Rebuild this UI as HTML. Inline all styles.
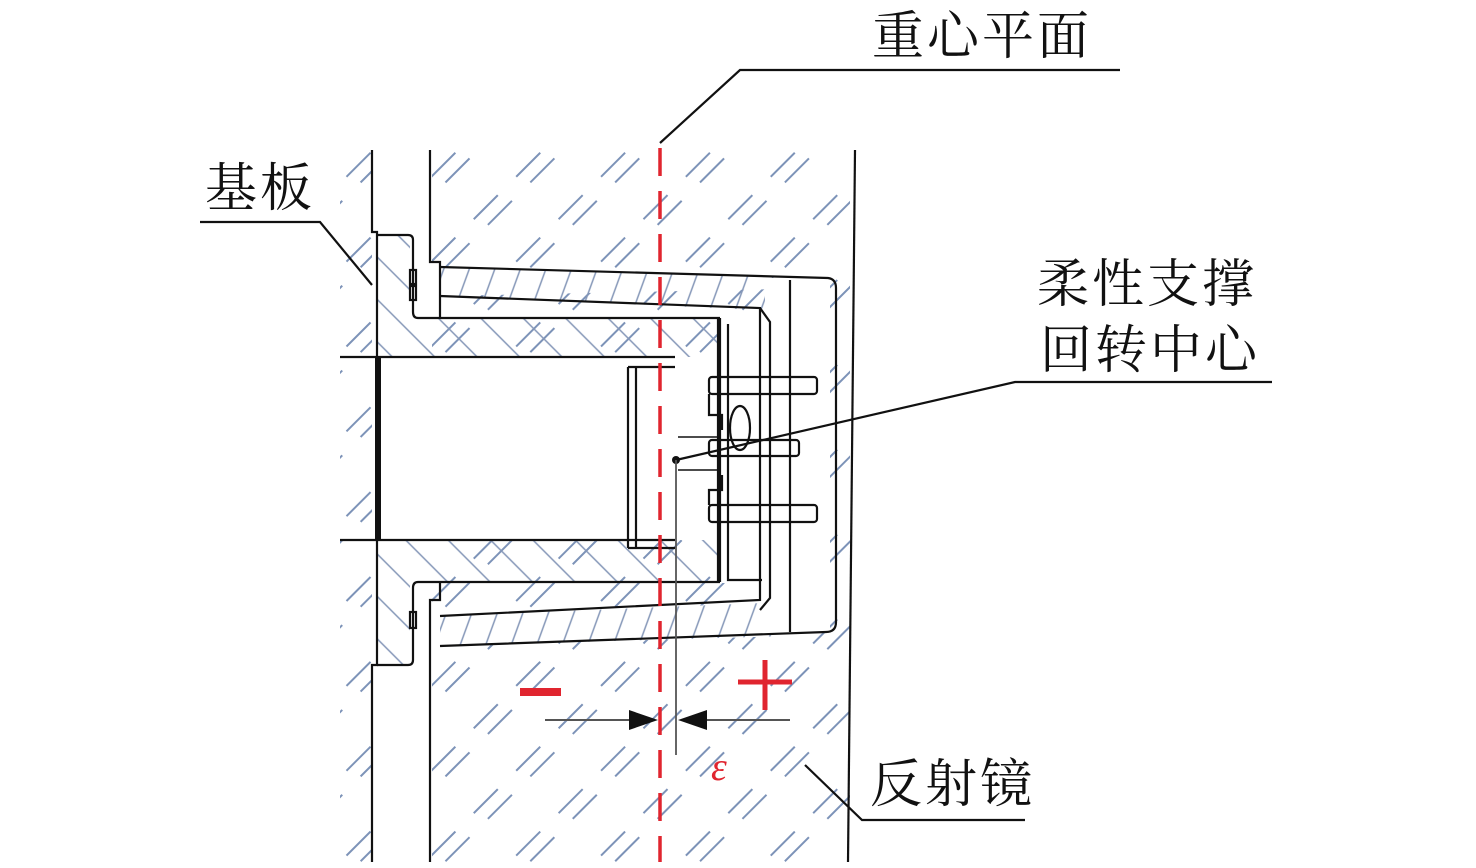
<!DOCTYPE html>
<html><head><meta charset="utf-8"><style>
html,body{margin:0;padding:0;background:#fff;}
svg{display:block}
text{font-family:"Liberation Serif","Noto Serif CJK SC","Noto Sans CJK SC",serif;}
</style></head><body>
<svg width="1476" height="868" viewBox="0 0 1476 868" xmlns="http://www.w3.org/2000/svg">
<defs>
<pattern id="g" width="60" height="60" patternUnits="userSpaceOnUse" patternTransform="rotate(-45)">
<line x1="0" y1="10" x2="34" y2="10" stroke="#7d93b8" stroke-width="2"/>
<line x1="6" y1="24" x2="40" y2="24" stroke="#7d93b8" stroke-width="2"/>
</pattern>
<pattern id="m" width="30" height="30" patternUnits="userSpaceOnUse" patternTransform="rotate(45)">
<line x1="0" y1="5" x2="30" y2="5" stroke="#8597b8" stroke-width="1.6"/>
</pattern>
<pattern id="c" width="24" height="24" patternUnits="userSpaceOnUse" patternTransform="rotate(-70)">
<line x1="0" y1="5" x2="24" y2="5" stroke="#8597b8" stroke-width="1.6"/>
</pattern>
</defs>
<rect x="340" y="150" width="32" height="712" fill="url(#g)"/>
<rect x="432" y="150" width="418" height="712" fill="url(#g)"/>
<rect x="372" y="150" width="58" height="712" fill="#fff"/>
<rect x="378" y="357" width="300" height="183" fill="#fff"/>
<path d="M378 235 H410 V318 H720 V357 H378 Z" fill="url(#m)"/>
<path d="M378 540 H720 V582 H410 V665 H378 Z" fill="url(#m)"/>
<path d="M440 267 L830 278 V288 L440 296 Z" fill="#fff"/>
<path d="M440 267 L790 277 L763 310 L440 296 Z" fill="url(#c)"/>
<path d="M440 646 L790 636 L763 603 L440 616 Z" fill="#fff"/>
<path d="M440 646 L790 636 L763 603 L440 616 Z" fill="url(#c)"/>
<rect x="765" y="278" width="65" height="355" fill="#fff"/>
<rect x="720" y="318" width="45" height="265" fill="#fff"/>
<rect x="678" y="357" width="42" height="183" fill="#fff"/>
<g stroke="#111" stroke-width="2.2" fill="none">
<path d="M372 150 V232 H377 V665 H372 V862"/>
<path d="M377 235 H408 Q413 235 413 240 V312 Q413 318 418 318 H720"/>
<path d="M377 665 H408 Q413 665 413 660 V588 Q413 582 418 582 H720"/>
<rect x="410" y="270" width="6" height="14"/><rect x="410" y="286" width="6" height="14"/>
<rect x="410" y="612" width="6" height="16"/>
<path d="M430 150 V262 H440 V318"/>
<path d="M430 862 V600 H440 V582"/>
<path d="M440 267 L828 278 Q836 279 836 288 V622 Q836 632 826 632 L440 646"/>
<path d="M440 296 L760 308 V600 L440 616"/>
<path d="M790 280 V632"/>
<path d="M760 308 L770 322 V598 L760 610"/>
<path d="M340 357 H675"/><path d="M340 540 H675"/>
<path d="M720 318 V582"/><path d="M718 318 V582"/>
<path d="M728 324 V580 H762"/>
<path d="M628 367 V548 M636 367 V548"/>
<path d="M628 367 H675 M628 548 H675"/>
<rect x="709" y="377" width="108" height="17" rx="3"/>
<rect x="709" y="505" width="108" height="17" rx="3"/>
<rect x="709" y="440" width="90" height="16" rx="3"/>
<path d="M709 394 V415 H722 V430 M709 505 V490 H722 V475"/>
<path d="M678 437 H720 M678 470 H720" stroke-width="1.6"/>
<ellipse cx="740" cy="428" rx="10" ry="22"/>
<path d="M855 150 Q850 500 848 862"/>
</g>
<path d="M378 357 V540" stroke="#111" stroke-width="6"/>
<path d="M660 148 V862" stroke="#e0252f" stroke-width="3.5" stroke-dasharray="28 15"/>
<g stroke="#111" stroke-width="2.2" fill="none">
<path d="M660 143 L740 70 H1120"/>
<path d="M200 222 H320 L372 285"/>
<path d="M1272 382 H1015 L676 460"/>
<path d="M1025 820 H862 L805 765"/>
</g>
<circle cx="676" cy="460" r="4" fill="#111"/>
<path d="M676 460 V755" stroke="#555" stroke-width="1.8"/>
<path d="M545 720 H635 M700 720 H790" stroke="#555" stroke-width="2"/>
<path d="M658 720 L629 710 V730 Z" fill="#111"/>
<path d="M678 720 L707 710 V730 Z" fill="#111"/>
<rect x="520" y="688" width="41" height="8" fill="#e0252f"/>
<path d="M738 682 H792 M765 660 V710" stroke="#e0252f" stroke-width="5"/>
<text x="711" y="780" font-size="40" font-style="italic" fill="#e0252f">ε</text>
<g font-size="52" fill="#111" letter-spacing="3">
<text x="872" y="54">重心平面</text>
<text x="205" y="206">基板</text>
<text x="1037" y="302">柔性支撑</text>
<text x="1040" y="368">回转中心</text>
<text x="870" y="802">反射镜</text>
</g>
</svg>
</body></html>
